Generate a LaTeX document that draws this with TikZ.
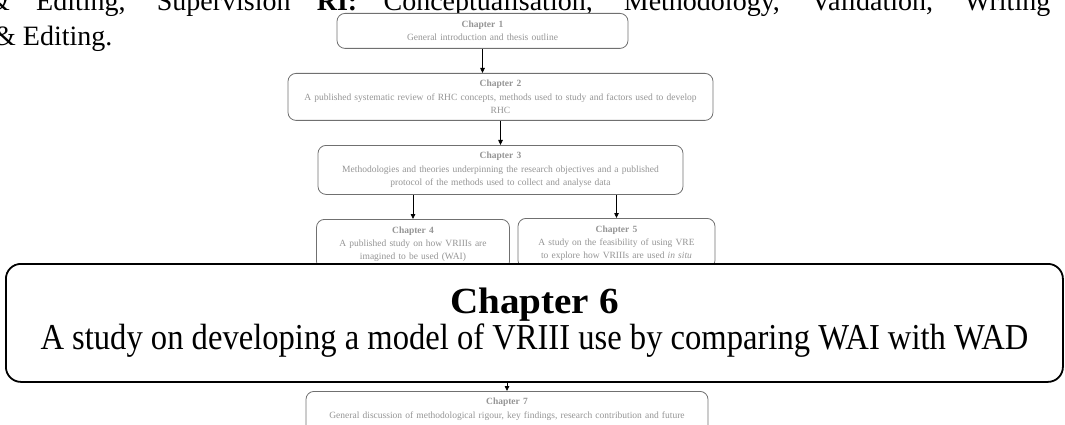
\documentclass[tikz,border=0pt]{standalone}
\usepackage{fontspec}
\setmainfont{Liberation Serif}
\usetikzlibrary{arrows.meta}
\definecolor{boxgray}{HTML}{707070}
\definecolor{txtgray}{HTML}{959595}
\begin{document}
\begin{tikzpicture}[x=1pt,y=-1pt,
  bgtext/.style={inner sep=0pt, anchor=base west, font=\fontsize{28}{32}\selectfont},
  chap/.style={draw=boxgray, line width=0.8pt, rounded corners=8pt, fill=white,
    align=center, text=txtgray, inner sep=0pt, anchor=north,
    font=\fontsize{9.5}{13.2}\selectfont},
  bigchap/.style={draw=black, line width=1.8pt, rounded corners=15pt, fill=white,
    align=center, inner sep=0pt, anchor=north west,
    font=\fontsize{32.6}{36}\selectfont},
  link/.style={-{Triangle[length=5pt,width=4.5pt]}, line width=0.8pt, black}]
\useasboundingbox (0,0) rectangle (1065,425);
\clip (0,0) rectangle (1065,425);

% running text of the page behind the chart (justified first line)
\node[bgtext] (line1) at (-12,11) {\makebox[1062pt][s]{\& Editing, Supervision \textbf{RI:} Conceptualisation, Methodology, Validation, Writing}};
\node[bgtext] (line2) at (-6,46) {\& Editing.};

% chapter boxes
\node[chap, text width=291pt, minimum height=35pt] (c1) at (482.5,13)
  {\textbf{Chapter 1}\\General introduction and thesis outline};
\node[chap, text width=425pt, minimum height=47pt] (c2) at (500.5,73)
  {\textbf{Chapter 2}\\A published systematic review of RHC concepts, methods used to study and factors used to develop\\RHC};
\node[chap, text width=365pt, minimum height=49pt] (c3) at (500.5,145)
  {\textbf{Chapter 3}\\Methodologies and theories underpinning the research objectives and a published\\protocol of the methods used to collect and analyse data};
\node[chap, text width=193pt, minimum height=50pt] (c4) at (413,219)
  {\textbf{Chapter 4}\\A published study on how VRIIIs are\\imagined to be used (WAI)};
\node[chap, text width=197pt, minimum height=50pt] (c5) at (616.5,218)
  {\textbf{Chapter 5}\\A study on the feasibility of using VRE\\to explore how VRIIIs are used \textit{in situ}};

\draw[link] (c1.south) -- (c1.south |- c2.north);
\draw[link] (c2.south) -- (c2.south |- c3.north);
\draw[link] (c4.north |- c3.south) -- (c4.north);
\draw[link] (c5.north |- c3.south) -- (c5.north);

% enlarged chapter 6 box
\node[bigchap, minimum width=1057pt, minimum height=118pt] (c6) at (5,263)
  {\scalebox{1.2}[1.13]{\textbf{Chapter 6}}\\\scalebox{1}[1.12]{A study on developing a model of VRIII use by comparing WAI with WAD}};

\node[chap, text width=402pt, text depth=30pt, inner ysep=7pt] (c7) at (507,391)
  {\textbf{Chapter 7}\\General discussion of methodological rigour, key findings, research contribution and future};
\draw[link] (c6.south -| c7.north) -- (c7.north);
\end{tikzpicture}
\end{document}
